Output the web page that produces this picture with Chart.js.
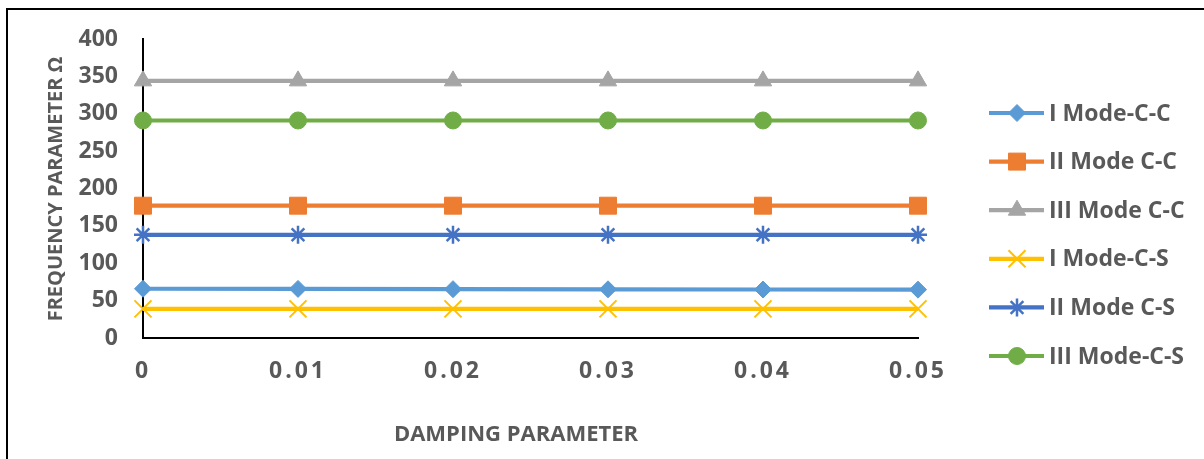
<!DOCTYPE html>
<html>
<head>
<meta charset="utf-8">
<script src="https://cdn.jsdelivr.net/npm/chart.js@4.4.1/dist/chart.umd.min.js"></script>
<style>
  html, body { margin: 0; padding: 0; background: #fff; overflow: hidden; }
  #wrap { position: relative; width: 1204px; height: 459px; }
  #frame { position: absolute; left: 6px; top: 8px; width: 1300px; height: 600px;
           border: 2px solid #000; box-sizing: border-box; pointer-events: none; }
  canvas { display: block; }
</style>
</head>
<body>
<div id="wrap">
  <canvas id="c" width="1204" height="459"></canvas>
  <div id="frame"></div>
</div>
<script>
// Damping parameter values along the x axis
const dampingLabels = ['0', '0.01', '0.02', '0.03', '0.04', '0.05'];

// Frequency parameter for each mode and boundary condition
const mode1CC = [65.9, 65.7, 65.3, 65.1, 64.9, 64.7];
const mode2CC = [177, 177, 177, 177, 177, 177];
const mode3CC = [344, 344, 344, 344, 344, 344];
const mode1CS = [39, 39, 39, 39, 39, 39];
const mode2CS = [138, 138, 138, 138, 138, 138];
const mode3CS = [291, 291, 291, 291, 291, 291];

// Series names shown in the legend
const seriesNames = ['I Mode-C-C', 'II Mode C-C', 'III Mode C-C', 'I Mode-C-S', 'II Mode C-S', 'III Mode-C-S'];

// Frequency axis range
const yMin = 0, yMax = 400, yStep = 50;

const TEXT = '#595959';
const FONT = '"Open Sans", "Liberation Sans", sans-serif';

function series(label, data, color, style, radius, pbw) {
  return {
    label, data,
    borderColor: color, backgroundColor: color,
    pointBackgroundColor: color, pointBorderColor: color,
    borderWidth: 4.2, pointStyle: style, pointRadius: radius,
    pointBorderWidth: pbw, tension: 0, clip: false
  };
}

const datasets = [
  series(seriesNames[0], mode1CC, '#5B9BD5', 'rectRot', 8.5, 1),
  series(seriesNames[1], mode2CC, '#ED7D31', 'rect', 12, 1),
  series(seriesNames[2], mode3CC, '#A5A5A5', 'triangle', 10, 1),
  series(seriesNames[3], mode1CS, '#FFC000', 'crossRot', 12, 2),
  series(seriesNames[4], mode2CS, '#4472C4', 'star', 9, 2.5),
  series(seriesNames[5], mode3CS, '#70AD47', 'circle', 8.5, 1)
];

// Wider letter spacing for the damping tick labels
const spacedTicks = {
  id: 'spacedTicks',
  beforeDraw(chart) {
    const xs = chart.scales.x;
    if (xs && !xs._spaced) {
      const orig = xs.drawLabels.bind(xs);
      xs.drawLabels = function (area) {
        const ctx = this.ctx;
        ctx.save();
        ctx.letterSpacing = '3px';
        orig(area);
        ctx.restore();
      };
      xs._spaced = true;
    }
  }
};

// Axis titles and the line-with-marker legend on the right
const decorations = {
  id: 'decorations',
  afterDraw(chart) {
    const ctx = chart.ctx;
    ctx.save();
    ctx.fillStyle = TEXT;
    ctx.textBaseline = 'middle';

    ctx.font = 'bold 22px ' + FONT;
    ctx.textAlign = 'center';
    ctx.fillText('DAMPING PARAMETER', 516, 435);

    ctx.save();
    ctx.translate(56, 189);
    ctx.rotate(-Math.PI / 2);
    ctx.font = 'bold 20px ' + FONT;
    ctx.fillText('FREQUENCY PARAMETER \u03A9', 0, 0);
    ctx.restore();

    const x0 = 989, x1 = 1044, xm = 1017, tx = 1049;
    chart.data.datasets.forEach((ds, i) => {
      const y = 113 + i * 48.6;
      ctx.strokeStyle = ds.borderColor;
      ctx.lineWidth = 4.2;
      ctx.beginPath();
      ctx.moveTo(x0, y);
      ctx.lineTo(x1, y);
      ctx.stroke();
      ctx.fillStyle = ds.pointBackgroundColor;
      ctx.strokeStyle = ds.pointBorderColor;
      ctx.lineWidth = ds.pointBorderWidth;
      Chart.helpers.drawPoint(ctx, {
        pointStyle: ds.pointStyle, radius: ds.pointRadius,
        borderWidth: ds.pointBorderWidth, rotation: 0
      }, xm, y);
      ctx.fillStyle = TEXT;
      ctx.textAlign = 'left';
      ctx.font = 'bold 23px ' + FONT;
      ctx.fillText(ds.label, tx, y + 1);
    });
    ctx.restore();
  }
};

new Chart(document.getElementById('c'), {
  type: 'line',
  data: { labels: dampingLabels, datasets },
  options: {
    responsive: false,
    devicePixelRatio: 1,
    animation: false,
    layout: { padding: { left: 0, top: 39, right: 286, bottom: 0 } },
    plugins: { legend: { display: false }, tooltip: { enabled: false } },
    scales: {
      x: {
        type: 'category',
        offset: false,
        grid: { display: false, drawTicks: false },
        border: { display: true, color: '#000', width: 2 },
        ticks: { color: TEXT, font: { family: FONT, size: 23, weight: 'bold' },
                 padding: 20, maxRotation: 0, autoSkip: false },
        afterFit: s => { s.height = 121; }
      },
      y: {
        min: yMin, max: yMax,
        grid: { display: false, drawTicks: false },
        border: { display: true, color: '#000', width: 2 },
        ticks: { stepSize: yStep, color: TEXT, font: { family: FONT, size: 23, weight: 'bold' },
                 padding: 25 },
        afterFit: s => { s.width = 143; }
      }
    }
  },
  plugins: [spacedTicks, decorations]
});
</script>
</body>
</html>
